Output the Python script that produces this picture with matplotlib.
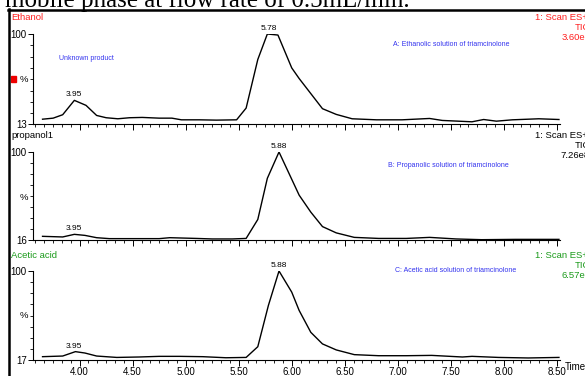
import matplotlib
matplotlib.use("Agg")
import matplotlib.pyplot as plt
from matplotlib.ticker import MultipleLocator, FixedLocator
from matplotlib.lines import Line2D
from matplotlib.patches import Rectangle

plt.rcParams['font.family'] = ['Liberation Sans', 'DejaVu Sans']

W, H = 585, 376

# retention time (min) / relative intensity (%)
eth_time = [3.65, 3.75, 3.84, 3.95, 4.06, 4.16, 4.25, 4.36, 4.47, 4.59, 4.75, 4.87,
            4.96, 5.13, 5.29, 5.48, 5.57, 5.68, 5.77, 5.87, 6.00, 6.07, 6.29, 6.42,
            6.57, 6.80, 7.04, 7.30, 7.42, 7.70, 7.81, 7.93, 8.08, 8.33, 8.52]
eth_int = [18.1, 19.1, 22.4, 36.2, 31.4, 21.7, 19.5, 18.5, 19.5, 19.8, 19.1, 19.1,
           17.5, 17.5, 17.2, 17.5, 28.8, 75.5, 100.0, 99.0, 67.4, 57.2, 28.2, 22.7,
           18.5, 17.5, 17.5, 18.8, 16.9, 15.6, 17.8, 16.2, 17.5, 18.5, 17.8]

prop_time = [3.65, 3.84, 3.95, 4.05, 4.16, 4.28, 4.50, 4.75, 4.85, 5.10, 5.25, 5.44,
             5.57, 5.68, 5.77, 5.88, 6.07, 6.18, 6.29, 6.42, 6.59, 6.82, 7.08, 7.30,
             7.55, 7.79, 8.11, 8.52]
prop_int = [19.5, 18.9, 21.4, 20.4, 18.2, 17.3, 17.3, 17.3, 18.2, 17.5, 17.0, 17.0,
            17.5, 35.6, 74.9, 100.0, 58.8, 42.6, 28.8, 22.8, 18.5, 17.5, 17.5, 18.5,
            17.0, 16.3, 16.6, 16.6]

acet_time = [3.65, 3.84, 3.96, 4.05, 4.16, 4.35, 4.56, 4.75, 4.94, 5.16, 5.38, 5.57,
             5.68, 5.78, 5.88, 6.00, 6.07, 6.18, 6.29, 6.42, 6.59, 6.82, 7.08, 7.32,
             7.61, 7.70, 7.95, 8.23, 8.52]
acet_int = [20.1, 20.7, 24.8, 23.5, 20.7, 19.4, 19.8, 20.4, 20.4, 20.1, 19.1, 19.4,
            29.4, 67.9, 100.0, 80.3, 63.2, 42.8, 32.0, 26.4, 22.0, 21.0, 21.0, 21.3,
            19.8, 20.4, 19.4, 18.9, 19.4]

panel_names = ["Ethanol", "propanol1", "Acetic acid"]
panel_colors = ["#ff2020", "black", "#1a9a1a"]
y_mins = [13, 16, 17]
tic_values = ["3.60e8", "7.26e8", "6.57e8"]
peak_labels = [["3.95", "5.78"], ["3.95", "5.88"], ["3.95", "5.88"]]
notes = ["A: Ethanolic solution of triamcinolone",
         "B: Propanolic solution of triamcinolone",
         "C: Acetic acid solution of triamcinolone"]
x_ticks = [4.00, 4.50, 5.00, 5.50, 6.00, 6.50, 7.00, 7.50, 8.00, 8.50]

series = [(eth_time, eth_int), (prop_time, prop_int), (acet_time, acet_int)]

# pixel boxes of each trace panel (top, bottom) and note positions
boxes = [(34, 124.5), (152, 240), (271, 360)]
note_pos = [(451, 44), (448, 166), (456, 271)]
ax_left, ax_right = 33, 560


def fx(px):
    return px / W


def fy(py):
    return 1 - py / H


fig = plt.figure(figsize=(W / 100, H / 100), dpi=100)

# clipped caption line from the page above
fig.text(fx(5), fy(7), "mobile phase at flow rate of 0.5mL/min.",
         family='Liberation Serif', fontsize=18, va='baseline', ha='left')

# page frame
fig.add_artist(Line2D([fx(8), fx(590)], [fy(9.5), fy(9.5)], color='black', lw=1.8))
fig.add_artist(Line2D([fx(9), fx(9)], [fy(9), fy(380)], color='black', lw=1.8))

for i, (t, v) in enumerate(series):
    top, bot = boxes[i]
    ax = fig.add_axes([fx(ax_left), fy(bot), fx(ax_right - ax_left), (bot - top) / H])
    ax.plot(t, v, color='black', lw=1.0)
    ax.set_xlim(3.56, 8.53)
    ax.set_ylim(y_mins[i], 100)

    for s in ['top', 'right']:
        ax.spines[s].set_visible(False)
    ax.spines['left'].set_linewidth(0.8)
    ax.spines['bottom'].set_linewidth(0.8)

    ax.xaxis.set_major_locator(FixedLocator(x_ticks))
    ax.xaxis.set_minor_locator(MultipleLocator(0.5 / 6))
    ax.tick_params(axis='x', which='major', length=4, width=0.7, labelsize=7, pad=1)
    ax.tick_params(axis='x', which='minor', length=2.5, width=0.6)
    if i < 2:
        ax.tick_params(axis='x', labelbottom=False)
    else:
        ax.set_xticklabels([f"{x:.2f}" for x in x_ticks])

    ymin = y_mins[i]
    ax.yaxis.set_major_locator(FixedLocator([ymin, 100]))
    ax.yaxis.set_minor_locator(FixedLocator(
        [ymin + k * (100 - ymin) / 8 for k in range(1, 8)]))
    ax.set_yticklabels([str(ymin), "100"])
    ax.tick_params(axis='y', which='major', length=3.5, width=0.7, labelsize=7, pad=1)
    ax.tick_params(axis='y', which='minor', length=2, width=0.6)

    # peak labels
    for lab in peak_labels[i]:
        pt = float(lab)
        j = min(range(len(t)), key=lambda k: abs(t[k] - pt))
        ax.annotate(lab, (pt, v[j]), xytext=(0, 1.5), textcoords='offset points',
                    ha='center', va='bottom', fontsize=6, annotation_clip=False)

    # panel texts
    fig.text(fx(11), fy(top - 16), panel_names[i], color=panel_colors[i],
             fontsize=6.8, ha='left', va='center')
    fig.text(fx(24), fy(top + 45), "%", fontsize=6.8, ha='center', va='center')
    fig.text(fx(588), fy(top - 16), "1: Scan ES+", color=panel_colors[i],
             fontsize=6.8, ha='right', va='center')
    fig.text(fx(590), fy(top - 6), "TIC", color=panel_colors[i],
             fontsize=6.8, ha='right', va='center')
    fig.text(fx(590), fy(top + 4), tic_values[i], color=panel_colors[i],
             fontsize=6.8, ha='right', va='center')
    nx, ny = note_pos[i]
    fig.text(fx(nx), fy(ny), notes[i], color='#3333ee', fontsize=5,
             ha='center', va='center')

fig.text(fx(86), fy(58), "Unknown product", color='#3333ee', fontsize=5,
         ha='center', va='center')
fig.add_artist(Rectangle((fx(11), fy(82)), fx(5), 6 / H, color='#ee0000'))
fig.text(fx(565), fy(367), "Time", fontsize=7, ha='left', va='center')

fig.savefig("out.png", dpi=100)
